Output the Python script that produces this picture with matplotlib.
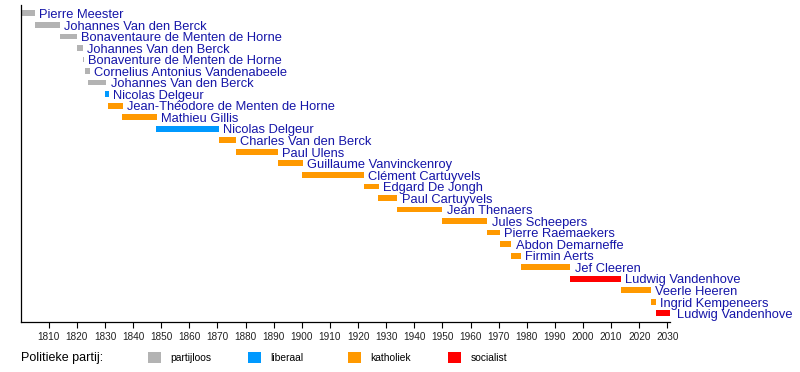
import matplotlib.pyplot as plt
from matplotlib.patches import Rectangle

# burgemeesters, in volgorde van boven naar onder
namen = ['Pierre Meester', 'Johannes Van den Berck', 'Bonaventaure de Menten de Horne',
         'Johannes Van den Berck', 'Bonaventure de Menten de Horne',
         'Cornelius Antonius Vandenabeele', 'Johannes Van den Berck', 'Nicolas Delgeur',
         'Jean-Théodore de Menten de Horne', 'Mathieu Gillis', 'Nicolas Delgeur',
         'Charles Van den Berck', 'Paul Ulens', 'Guillaume Vanvinckenroy',
         'Clément Cartuyvels', 'Edgard De Jongh', 'Paul Cartuyvels', 'Jean Thenaers',
         'Jules Scheepers', 'Pierre Raemaekers', 'Abdon Demarneffe', 'Firmin Aerts',
         'Jef Cleeren', 'Ludwig Vandenhove', 'Veerle Heeren', 'Ingrid Kempeneers',
         'Ludwig Vandenhove']
begin = [1800, 1805, 1814, 1820, 1822, 1823, 1824, 1830, 1831, 1836, 1848,
         1870.5, 1876.5, 1891.5, 1900, 1922, 1927, 1934, 1950, 1966, 1970.5,
         1974.5, 1978, 1995.5, 2013.5, 2024, 2026]
einde = [1805, 1814, 1820, 1822, 1822.5, 1824.5, 1830.5, 1831.5, 1836.5, 1848.5,
         1870.5, 1876.5, 1891.5, 1900.5, 1922, 1927.5, 1934, 1950, 1966, 1970.5,
         1974.5, 1978, 1995.5, 2013.5, 2024, 2026, 2032]
partij = ['partijloos'] * 7 + ['liberaal', 'katholiek', 'katholiek', 'liberaal'] + \
         ['katholiek'] * 12 + ['socialist', 'katholiek', 'katholiek', 'socialist']

partijen = ['partijloos', 'liberaal', 'katholiek', 'socialist']
kleuren = {'partijloos': '#b3b3b3', 'liberaal': '#0099ff',
           'katholiek': '#ff9900', 'socialist': '#ff0000'}
jaren = list(range(1810, 2031, 10))

plt.rcParams['font.family'] = ['Liberation Sans', 'DejaVu Sans']
tekstkleur = '#1515a8'

fig = plt.figure(figsize=(8, 3.72), dpi=100)
ax = fig.add_axes([0.0258, 0.1344, 0.812, 0.853])

for i, (naam, b, e, p) in enumerate(zip(namen, begin, einde, partij)):
    ax.barh(i, e - b, left=b, height=0.5, color=kleuren[p], edgecolor='none')
    ax.annotate(naam, xy=(e, i), xytext=(3, -3.4), textcoords='offset points',
                va='baseline', ha='left', fontsize=9.3, color=tekstkleur,
                annotation_clip=False)

ax.set_xlim(1800, 2031)
ax.set_ylim(len(namen) - 0.25, -0.75)
ax.set_xticks(jaren)
ax.set_xticklabels([str(j) for j in jaren], fontsize=7.2, color='#222222')
ax.tick_params(axis='x', direction='out', length=4.3, width=0.8, pad=3)
ax.set_yticks([])
for s in ['top', 'right']:
    ax.spines[s].set_visible(False)
for s in ['left', 'bottom']:
    ax.spines[s].set_linewidth(0.9)

# legenda onderaan
fig.text(20.7 / 800, 1 - 357.5 / 372, 'Politieke partij:', fontsize=9,
         va='center', ha='left')
for k, p in enumerate(partijen):
    x0 = (148.3 + 100 * k) / 800
    fig.add_artist(Rectangle((x0, 1 - 362.7 / 372), 13 / 800, 11 / 372,
                             transform=fig.transFigure, color=kleuren[p], lw=0))
    fig.text(x0 + 22 / 800, 1 - 358 / 372, p, fontsize=7.4, va='center', ha='left')

plt.savefig('out.png', dpi=100)
